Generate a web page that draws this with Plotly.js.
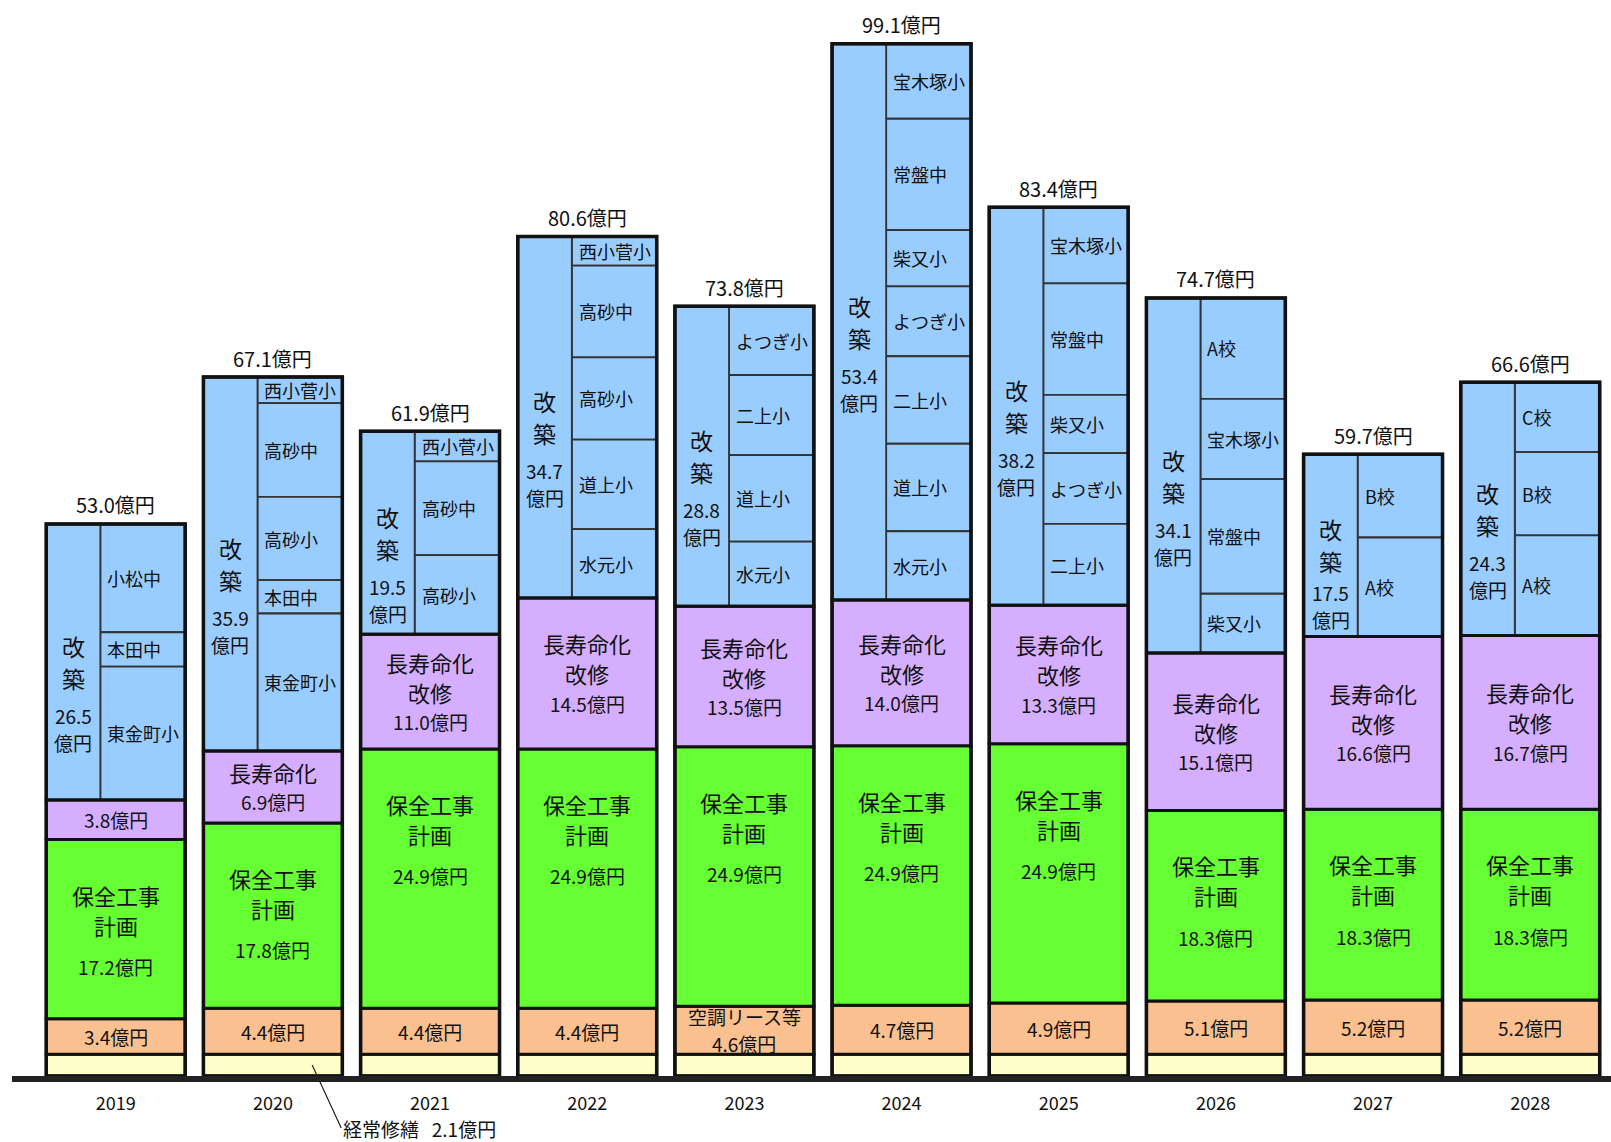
<!DOCTYPE html>
<html><head><meta charset="utf-8">
<script src="https://cdn.plot.ly/plotly-3.0.1.min.js"></script>
<style>html,body{margin:0;padding:0;background:#fff}#chart{width:1611px;height:1142px}</style>
</head><body><div id="chart"></div>
<script>
// ---- data ----
const years = ['2019','2020','2021','2022','2023','2024','2025','2026','2027','2028'];
const keijoVals = [2.1,2.1,2.1,2.1,2.1,2.1,2.1,2.1,2.1,2.1];          // 経常修繕
const orangeVals = [3.4,4.4,4.4,4.4,4.6,4.7,4.9,5.1,5.2,5.2];         // 空調リース等
const orangeTitles = [[],[],[],[],['空調リース等'],[],[],[],[],[]];
const hozenVals = [17.2,17.8,24.9,24.9,24.9,24.9,24.9,18.3,18.3,18.3]; // 保全工事計画
const hozenTitle = ['保全工事','計画'];
const chojuVals = [3.8,6.9,11.0,14.5,13.5,14.0,13.3,15.1,16.6,16.7];  // 長寿命化改修
const chojuTitles = [[],['長寿命化'],['長寿命化','改修'],['長寿命化','改修'],['長寿命化','改修'],['長寿命化','改修'],['長寿命化','改修'],['長寿命化','改修'],['長寿命化','改修'],['長寿命化','改修']];
const kaichikuVals = [26.5,35.9,19.5,34.7,28.8,53.4,38.2,34.1,17.5,24.3]; // 改築
const kaichikuTitle = ['改','築'];
const totalVals = [53.0,67.1,61.9,80.6,73.8,99.1,83.4,74.7,59.7,66.6];
// 改築 breakdown, listed top to bottom
const schoolNames = [
  ['小松中','本田中','東金町小'],
  ['西小菅小','高砂中','高砂小','本田中','東金町小'],
  ['西小菅小','高砂中','高砂小'],
  ['西小菅小','高砂中','高砂小','道上小','水元小'],
  ['よつぎ小','二上小','道上小','水元小'],
  ['宝木塚小','常盤中','柴又小','よつぎ小','二上小','道上小','水元小'],
  ['宝木塚小','常盤中','柴又小','よつぎ小','二上小'],
  ['A校','宝木塚小','常盤中','柴又小'],
  ['B校','A校'],
  ['C校','B校','A校']
];
const schoolVals = [
  [10.4,3.3,12.8],
  [2.5,9.0,8.0,3.2,13.2],
  [2.9,9.0,7.6],
  [2.8,8.8,7.9,8.6,6.6],
  [6.6,7.7,8.3,6.2],
  [7.2,10.7,5.4,6.7,8.4,8.4,6.6],
  [7.3,10.7,5.6,6.8,7.8],
  [9.7,7.7,11.0,5.7],
  [8.0,9.5],
  [6.7,8.0,9.6]
];
const keijoLabel = '経常修繕\u00a0\u00a0\u00a02.1億円';

// ---- geometry helpers ----
const idx = years.map((_, i) => i);
const BW = 0.884, LW = 0.344, OFF = -BW / 2;
const Y_MAX = 103.3, PLOT_H = 1142 - 66;
const pxPerUnit = PLOT_H / Y_MAX;
const baseOrange = idx.map(i => keijoVals[i]);
const baseGreen = idx.map(i => baseOrange[i] + orangeVals[i]);
const basePurple = idx.map(i => baseGreen[i] + hozenVals[i]);
const baseBlue = idx.map(i => basePurple[i] + chojuVals[i]);
const topBlue = idx.map(i => baseBlue[i] + kaichikuVals[i]);
const fmt = v => v.toFixed(1) + '億円';

const BLUE = '#99CCFF', PURPLE = '#D6AEFF', GREEN = '#66FF33', ORANGE = '#FAC090', YELLOW = '#FFFFCC';
const thick = {color: '#111', width: 3};
const thin = {color: '#333', width: 1.8};

const annotations = [];
function label(x, y, shift, text, size, extra) {
  annotations.push(Object.assign({x: x, y: y, yshift: shift, yanchor: 'middle', text: text,
    showarrow: false, font: {size: size}}, extra || {}));
}
// lines: [{t, s}] centered around y with spacing px
function block(x, y, centerShift, lines, spacing) {
  const n = lines.length;
  lines.forEach((ln, k) => label(x, y, centerShift - (k - (n - 1) / 2) * spacing, ln.t, ln.s));
}

// school segments
const sx = [], sy = [], sb = [];
idx.forEach(i => {
  let top = topBlue[i];
  schoolVals[i].forEach((v, j) => {
    sx.push(i); sy.push(v); sb.push(top - v);
    label(i + OFF + LW, top - v / 2, 0, schoolNames[i][j], 18, {xanchor: 'left', xshift: 5});
    top -= v;
  });
});

const traces = [
  {type: 'bar', x: sx, y: sy, base: sb, offset: OFF + LW, width: BW - LW, marker: {color: BLUE, line: thin}},
  {type: 'bar', x: idx, y: kaichikuVals, base: baseBlue, offset: OFF, width: LW, marker: {color: BLUE, line: thin}},
  {type: 'bar', x: idx, y: keijoVals, base: idx.map(() => 0), offset: OFF, width: BW, marker: {color: YELLOW, line: thick}},
  {type: 'bar', x: idx, y: orangeVals, base: baseOrange, offset: OFF, width: BW, marker: {color: ORANGE, line: thick}},
  {type: 'bar', x: idx, y: hozenVals, base: baseGreen, offset: OFF, width: BW, marker: {color: GREEN, line: thick}},
  {type: 'bar', x: idx, y: chojuVals, base: basePurple, offset: OFF, width: BW, marker: {color: PURPLE, line: thick}},
  {type: 'bar', x: idx, y: kaichikuVals, base: baseBlue, offset: OFF, width: BW, marker: {color: 'rgba(0,0,0,0)', line: thick}},
  {type: 'bar', x: idx, y: topBlue, base: idx.map(() => 0), offset: OFF, width: BW, marker: {color: 'rgba(0,0,0,0)', line: {color: '#111', width: 3.5}}}
];

idx.forEach(i => {
  // totals
  label(i, topBlue[i], 19, fmt(totalVals[i]), 20);
  // 改築 left column
  const lx = i + OFF + LW / 2, bm = baseBlue[i] + kaichikuVals[i] / 2;
  const half = kaichikuVals[i] * pxPerUnit / 2;
  block(lx, bm, 0, kaichikuTitle.map(t => ({t: t, s: 23})), 32);
  block(lx, bm, -Math.min(67, half - 30), [{t: kaichikuVals[i].toFixed(1), s: 19}, {t: '億円', s: 19}], 27);
  // 長寿命化
  block(i, basePurple[i] + chojuVals[i] / 2, 0,
    chojuTitles[i].map(t => ({t: t, s: 22})).concat([{t: fmt(chojuVals[i]), s: 19}]), 30);
  // 保全工事計画
  const gt = baseGreen[i] + hozenVals[i];
  block(i, gt, -70, hozenTitle.map(t => ({t: t, s: 22})), 30);
  label(i, gt, -127, fmt(hozenVals[i]), 19);
  // orange
  block(i, baseOrange[i] + orangeVals[i] / 2, 0,
    orangeTitles[i].map(t => ({t: t, s: 19})).concat([{t: fmt(orangeVals[i]), s: 19}]), 27);
});

// 経常修繕 callout
annotations.push({x: 1.25, y: keijoVals[1] / 2, text: keijoLabel, showarrow: true, arrowhead: 0, arrowwidth: 1.2,
  arrowcolor: '#222', ax: 29, ay: 63, xanchor: 'left', yanchor: 'middle', standoff: 0, startstandoff: 0, font: {size: 19}});

const layout = {
  width: 1611, height: 1142,
  margin: {l: 12, r: 0, t: 0, b: 66},
  barmode: 'overlay', showlegend: false,
  paper_bgcolor: '#fff', plot_bgcolor: '#fff',
  font: {family: '"Noto Sans CJK JP", "Noto Sans", sans-serif', color: '#111'},
  xaxis: {range: [-0.66, 9.514], tickvals: idx, ticktext: years, showgrid: false, zeroline: false,
    showline: true, linewidth: 6, linecolor: '#222', ticks: '', tickfont: {size: 18}, ticklabelstandoff: 6},
  yaxis: {range: [0, Y_MAX], visible: false},
  annotations: annotations
};

Plotly.newPlot('chart', traces, layout, {displayModeBar: false, staticPlot: true});
</script>
</body></html>
